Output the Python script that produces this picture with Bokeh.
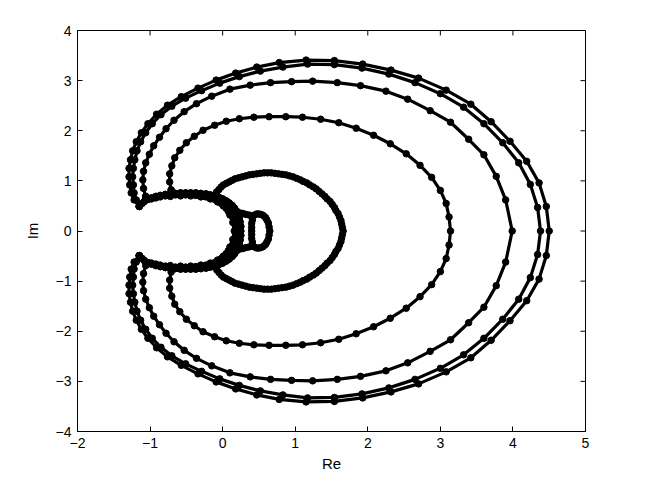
from bokeh.plotting import figure
from bokeh.models import Range1d, FixedTicker
from bokeh.embed import file_html
from bokeh.resources import INLINE

X_MIN, X_MAX = -2, 5
Y_MIN, Y_MAX = -4, 4
x_ticks = [-2, -1, 0, 1, 2, 3, 4, 5]
x_tick_labels = ["\u22122", "\u22121", "0", "1", "2", "3", "4", "5"]
y_ticks = [-4, -3, -2, -1, 0, 1, 2, 3, 4]
y_tick_labels = ["\u22124", "\u22123", "\u22122", "\u22121", "0", "1", "2", "3", "4"]

# ---- outermost curve F (outer arc, upper then lower)
F_up_x = [-1.15,-1.22,-1.26,-1.28,-1.29,-1.29,-1.27,-1.24,-1.19,-1.12,-1.03,-0.91,-0.76,-0.57,-0.34,-0.09,0.18,0.47,0.78,1.15,1.54,1.93,2.32,2.70,3.08,3.42,3.70,3.96,4.19,4.36,4.46,4.50]
F_up_y = [0.49,0.62,0.76,0.92,1.08,1.25,1.42,1.60,1.78,1.96,2.14,2.33,2.51,2.68,2.85,3.01,3.15,3.27,3.36,3.41,3.40,3.33,3.21,3.05,2.81,2.53,2.18,1.79,1.39,0.96,0.49,0.00]
F_lo_x = [4.46,4.36,4.19,3.96,3.70,3.42,3.08,2.70,2.32,1.93,1.54,1.15,0.78,0.47,0.18,-0.09,-0.34,-0.57,-0.76,-0.91,-1.03,-1.12,-1.19,-1.24,-1.27,-1.29,-1.29,-1.28,-1.26,-1.22,-1.15]
F_lo_y = [-0.49,-0.96,-1.39,-1.79,-2.18,-2.53,-2.81,-3.05,-3.21,-3.33,-3.40,-3.41,-3.36,-3.27,-3.15,-3.01,-2.85,-2.68,-2.51,-2.33,-2.14,-1.96,-1.78,-1.60,-1.42,-1.25,-1.08,-0.92,-0.76,-0.62,-0.49]

# ---- curve E
E_up_x = [-1.15,-1.19,-1.22,-1.23,-1.24,-1.23,-1.21,-1.18,-1.13,-1.06,-0.97,-0.85,-0.70,-0.51,-0.29,-0.04,0.23,0.52,0.83,1.17,1.54,1.92,2.29,2.65,3.00,3.32,3.60,3.86,4.08,4.24,4.34,4.38]
E_up_y = [0.49,0.62,0.76,0.92,1.08,1.25,1.42,1.60,1.78,1.96,2.14,2.32,2.49,2.65,2.80,2.95,3.08,3.19,3.27,3.33,3.32,3.25,3.13,2.96,2.74,2.47,2.14,1.76,1.36,0.93,0.47,0.00]
E_lo_x = [4.34,4.24,4.08,3.86,3.60,3.32,3.00,2.65,2.29,1.92,1.54,1.17,0.83,0.52,0.23,-0.04,-0.29,-0.51,-0.70,-0.85,-0.97,-1.06,-1.13,-1.18,-1.21,-1.23,-1.24,-1.23,-1.22,-1.19,-1.15]
E_lo_y = [-0.47,-0.93,-1.36,-1.76,-2.14,-2.47,-2.74,-2.96,-3.13,-3.25,-3.32,-3.33,-3.27,-3.19,-3.08,-2.95,-2.80,-2.65,-2.49,-2.32,-2.14,-1.96,-1.78,-1.60,-1.42,-1.25,-1.08,-0.92,-0.76,-0.62,-0.49]

# ---- curve D
D_up_x = [-1.06,-1.09,-1.10,-1.09,-1.06,-1.01,-0.95,-0.87,-0.78,-0.67,-0.53,-0.36,-0.15,0.10,0.38,0.66,0.95,1.24,1.58,1.90,2.25,2.55,2.86,3.14,3.39,3.60,3.77,3.90,3.99]
D_up_y = [0.69,0.85,1.02,1.19,1.36,1.53,1.70,1.87,2.04,2.21,2.38,2.54,2.69,2.83,2.91,2.96,2.98,2.99,2.96,2.90,2.79,2.63,2.40,2.17,1.83,1.52,1.09,0.62,0.00]
D_lo_x = [3.90,3.77,3.60,3.39,3.14,2.86,2.55,2.25,1.90,1.58,1.24,0.95,0.66,0.38,0.10,-0.15,-0.36,-0.53,-0.67,-0.78,-0.87,-0.95,-1.01,-1.06,-1.09,-1.10,-1.09,-1.06]
D_lo_y = [-0.62,-1.09,-1.52,-1.83,-2.17,-2.40,-2.63,-2.79,-2.90,-2.96,-2.99,-2.98,-2.96,-2.91,-2.83,-2.69,-2.54,-2.38,-2.21,-2.04,-1.87,-1.70,-1.53,-1.36,-1.19,-1.02,-0.85,-0.69]

# ---- curve C
C_up_x = [-0.71,-0.73,-0.73,-0.70,-0.66,-0.59,-0.50,-0.39,-0.27,-0.11,0.05,0.23,0.43,0.64,0.87,1.10,1.35,1.60,1.84,2.08,2.31,2.53,2.72,2.88,3.00,3.08,3.12,3.14]
C_up_y = [0.82,0.98,1.14,1.30,1.46,1.61,1.76,1.89,2.01,2.11,2.19,2.24,2.27,2.28,2.28,2.27,2.23,2.16,2.05,1.91,1.74,1.54,1.31,1.07,0.81,0.55,0.28,0.00]
C_lo_x = [3.12,3.08,3.00,2.88,2.72,2.53,2.31,2.08,1.84,1.60,1.35,1.10,0.87,0.64,0.43,0.23,0.05,-0.11,-0.27,-0.39,-0.50,-0.59,-0.66,-0.70,-0.73,-0.73,-0.71]
C_lo_y = [-0.28,-0.55,-0.81,-1.07,-1.31,-1.54,-1.74,-1.91,-2.05,-2.16,-2.23,-2.27,-2.28,-2.28,-2.27,-2.24,-2.19,-2.11,-2.01,-1.89,-1.76,-1.61,-1.46,-1.30,-1.14,-0.98,-0.82]

# ---- curve B
B_up_x = [-0.08,-0.05,-0.02,0.01,0.05,0.09,0.13,0.17,0.22,0.27,0.32,0.37,0.42,0.47,0.52,0.57,0.62,0.67,0.72,0.77,0.82,0.87,0.92,0.97,1.02,1.07,1.11,1.16,1.20,1.25,1.29,1.33,1.37,1.41,1.44,1.48,1.51,1.54,1.56,1.59,1.61,1.63,1.64,1.65,1.66]
B_up_y = [0.78,0.83,0.88,0.92,0.95,0.98,1.01,1.04,1.06,1.08,1.10,1.12,1.13,1.14,1.15,1.16,1.16,1.16,1.15,1.14,1.13,1.12,1.10,1.08,1.05,1.02,0.99,0.96,0.92,0.88,0.84,0.79,0.74,0.69,0.64,0.59,0.53,0.47,0.41,0.35,0.28,0.21,0.14,0.07,0.00]
B_lo_x = [1.65,1.64,1.63,1.61,1.59,1.56,1.54,1.51,1.48,1.44,1.41,1.37,1.33,1.29,1.25,1.20,1.16,1.11,1.07,1.02,0.97,0.92,0.87,0.82,0.77,0.72,0.67,0.62,0.57,0.52,0.47,0.42,0.37,0.32,0.27,0.22,0.17,0.13,0.09,0.05,0.01,-0.02,-0.05,-0.08]
B_lo_y = [-0.07,-0.14,-0.21,-0.28,-0.35,-0.41,-0.47,-0.53,-0.59,-0.64,-0.69,-0.74,-0.79,-0.84,-0.88,-0.92,-0.96,-0.99,-1.02,-1.05,-1.08,-1.10,-1.12,-1.13,-1.14,-1.15,-1.16,-1.16,-1.16,-1.15,-1.14,-1.13,-1.12,-1.10,-1.08,-1.06,-1.04,-1.01,-0.98,-0.95,-0.92,-0.88,-0.83,-0.78]

# ---- notch paths (lower tip -> right end -> upper tip)
notch_out_x = [-1.15,-1.11,-1.08,-1.03,-0.98,-0.92,-0.86,-0.79,-0.72,-0.65,-0.58,-0.51,-0.44,-0.37,-0.30,-0.23,-0.17,-0.11,-0.05,0.00,0.05,0.09,0.13,0.16,0.19,0.21,0.23,0.24,0.25,0.25,0.25,0.24,0.23,0.21,0.19,0.16,0.13,0.09,0.05,0.00,-0.05,-0.11,-0.17,-0.23,-0.30,-0.37,-0.44,-0.51,-0.58,-0.65,-0.72,-0.79,-0.86,-0.92,-0.98,-1.03,-1.08,-1.11,-1.15]
notch_out_y = [-0.49,-0.55,-0.59,-0.63,-0.66,-0.69,-0.71,-0.73,-0.74,-0.75,-0.76,-0.76,-0.76,-0.76,-0.75,-0.74,-0.72,-0.70,-0.67,-0.64,-0.60,-0.56,-0.51,-0.46,-0.40,-0.33,-0.26,-0.18,-0.09,0.00,0.09,0.18,0.26,0.33,0.40,0.46,0.51,0.56,0.60,0.64,0.67,0.70,0.72,0.74,0.75,0.76,0.76,0.76,0.76,0.75,0.74,0.73,0.71,0.69,0.66,0.63,0.59,0.55,0.49]
notch_D_x = [-1.06,-0.98,-0.92,-0.86,-0.79,-0.72,-0.65,-0.58,-0.51,-0.44,-0.37,-0.30,-0.23,-0.17,-0.11,-0.06,-0.01,0.03,0.07,0.10,0.13,0.16,0.18,0.20,0.21,0.21,0.21,0.20,0.18,0.16,0.13,0.10,0.07,0.03,-0.01,-0.06,-0.11,-0.17,-0.23,-0.30,-0.37,-0.44,-0.51,-0.58,-0.65,-0.72,-0.79,-0.86,-0.92,-0.98,-1.06]
notch_D_y = [-0.62,-0.64,-0.66,-0.68,-0.70,-0.71,-0.72,-0.72,-0.72,-0.72,-0.71,-0.70,-0.68,-0.66,-0.63,-0.59,-0.55,-0.50,-0.45,-0.39,-0.33,-0.27,-0.20,-0.14,-0.07,0.00,0.07,0.14,0.20,0.27,0.33,0.39,0.45,0.50,0.55,0.59,0.63,0.66,0.68,0.70,0.71,0.72,0.72,0.72,0.72,0.71,0.70,0.68,0.66,0.64,0.62]
notch_C_x = [-0.72,-0.58,-0.44,-0.30,-0.17,-0.07,0.01,0.08,0.14,0.18,0.19,0.18,0.14,0.08,0.01,-0.07,-0.17,-0.30,-0.44,-0.58,-0.72]
notch_C_y = [-0.69,-0.70,-0.70,-0.68,-0.64,-0.58,-0.50,-0.39,-0.27,-0.14,0.00,0.14,0.27,0.39,0.50,0.58,0.64,0.68,0.70,0.70,0.69]
notch_B_x = [-0.08,-0.02,0.05,0.10,0.14,0.16,0.14,0.10,0.05,-0.02,-0.08]
notch_B_y = [-0.62,-0.55,-0.45,-0.32,-0.17,0.00,0.17,0.32,0.45,0.55,0.62]

# ---- innermost small loop
loop_x = [0.24,0.28,0.32,0.36,0.41,0.44,0.47,0.50,0.53,0.56,0.59,0.61,0.63,0.64,0.65,0.64,0.63,0.61,0.59,0.56,0.53,0.50,0.47,0.44,0.41,0.36,0.32,0.28,0.24]
loop_y = [0.36,0.35,0.33,0.32,0.30,0.32,0.34,0.34,0.33,0.31,0.27,0.22,0.16,0.08,0.00,-0.08,-0.16,-0.22,-0.27,-0.31,-0.33,-0.34,-0.34,-0.32,-0.30,-0.32,-0.33,-0.35,-0.36]
loop_side_x = [0.41,0.41,0.40,0.40,0.40,0.40,0.40,0.41,0.41]
loop_side_y = [0.30,0.22,0.15,0.07,0.00,-0.07,-0.15,-0.22,-0.30]

curves = [
    (F_up_x + F_lo_x + notch_out_x, F_up_y + F_lo_y + notch_out_y),
    (E_up_x + E_lo_x + notch_out_x, E_up_y + E_lo_y + notch_out_y),
    (D_up_x + D_lo_x + notch_D_x + D_up_x[:1], D_up_y + D_lo_y + notch_D_y + D_up_y[:1]),
    (C_up_x + C_lo_x + notch_C_x + C_up_x[:1], C_up_y + C_lo_y + notch_C_y + C_up_y[:1]),
    (B_up_x + B_lo_x + notch_B_x + B_up_x[:1], B_up_y + B_lo_y + notch_B_y + B_up_y[:1]),
    (loop_x, loop_y),
    (loop_side_x, loop_side_y),
]

FONT = "Liberation Sans"
FRAME_W, FRAME_H = 508, 401
TICK_PX = 5

p = figure(frame_width=FRAME_W, frame_height=FRAME_H,
           min_border_left=77, min_border_right=53, min_border_top=30, min_border_bottom=46,
           x_range=Range1d(X_MIN, X_MAX), y_range=Range1d(Y_MIN, Y_MAX),
           output_backend="svg", toolbar_location=None)
p.xgrid.visible = False
p.ygrid.visible = False
p.outline_line_color = "black"
p.outline_line_width = 1
p.background_fill_color = "white"
p.border_fill_color = "white"

def style_axis(ax, ticks, labels):
    ax.ticker = FixedTicker(ticks=ticks)
    ax.major_label_overrides = {t: l for t, l in zip(ticks, labels)}
    ax.major_tick_in = TICK_PX
    ax.major_tick_out = 0
    ax.minor_tick_line_color = None
    ax.axis_line_color = "black"
    ax.major_tick_line_color = "black"
    ax.major_label_text_font = FONT
    ax.major_label_text_font_size = "14px"
    ax.major_label_text_color = "black"
    ax.axis_label_text_font = FONT
    ax.axis_label_text_font_size = "15px"
    ax.axis_label_text_font_style = "normal"
    ax.axis_label_text_color = "black"

style_axis(p.xaxis[0], x_ticks, x_tick_labels)
style_axis(p.yaxis[0], y_ticks, y_tick_labels)
p.xaxis[0].axis_label = "Re"
p.yaxis[0].axis_label = "Im"
p.xaxis[0].major_label_standoff = 6
p.yaxis[0].major_label_standoff = 6
p.xaxis[0].axis_label_standoff = 4
p.yaxis[0].axis_label_standoff = 12

# inward ticks on the top and right edges of the box
dx = (X_MAX - X_MIN) / FRAME_W * TICK_PX
dy = (Y_MAX - Y_MIN) / FRAME_H * TICK_PX
p.segment(x0=x_ticks, y0=[Y_MAX] * len(x_ticks), x1=x_ticks, y1=[Y_MAX - dy] * len(x_ticks),
          line_color="black", line_width=1)
p.segment(x0=[X_MAX] * len(y_ticks), y0=y_ticks, x1=[X_MAX - dx] * len(y_ticks), y1=y_ticks,
          line_color="black", line_width=1)

for cx, cy in curves:
    p.line(cx, cy, line_color="black", line_width=3.2, line_join="round")
    p.scatter(cx, cy, marker="circle", size=6.5, fill_color="black", line_color="black")

open("out.html", "w").write(file_html(p, INLINE))
